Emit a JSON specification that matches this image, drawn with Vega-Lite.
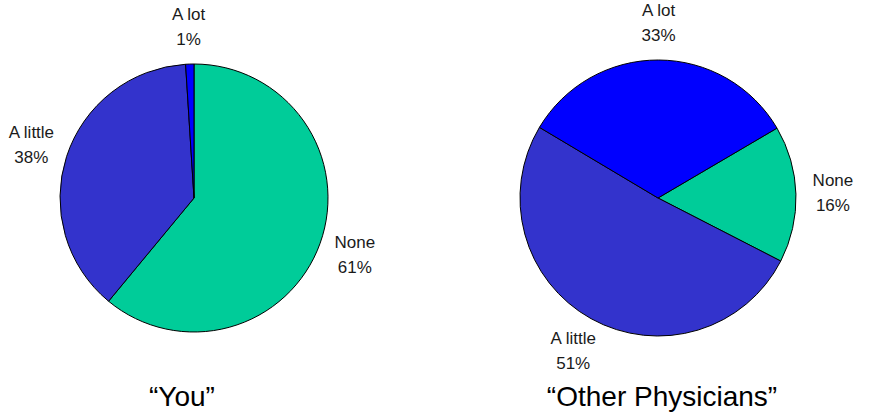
{
  "$schema": "https://vega.github.io/schema/vega-lite/v6.json",
  "padding": 0,
  "spacing": 55,
  "background": "white",
  "config": {
    "view": {"stroke": null},
    "font": "Liberation Sans",
    "title": {"orient": "bottom", "fontSize": 28, "fontWeight": "normal", "color": "#000", "font": "Liberation Sans", "baseline": "middle", "offset": -12}
  },
  "datasets": {
    "you": [
      {"answer": "None", "pct": 61},
      {"answer": "A little", "pct": 38},
      {"answer": "A lot", "pct": 1}
    ],
    "others": [
      {"answer": "None", "pct": 16},
      {"answer": "A little", "pct": 51},
      {"answer": "A lot", "pct": 33}
    ]
  },
  "hconcat": [
    {
      "title": {"text": "“You”", "dx": -12},
      "width": 388,
      "height": 396,
      "data": {"name": "you"},
      "transform": [
        {"calculate": "datum.answer + '\\n' + datum.pct + '%'", "as": "label"},
        {"calculate": "indexof(['None', 'A little', 'A lot'], datum.answer)", "as": "rank"}
      ],
      "encoding": {
        "theta": {"field": "pct", "type": "quantitative", "stack": true, "scale": {"range": [0, 6.2832]}},
        "order": {"field": "rank", "type": "quantitative", "sort": "ascending"},
        "color": {"field": "answer", "type": "nominal",
          "scale": {"domain": ["None", "A little", "A lot"], "range": ["#00CC99", "#3333CC", "#0000FF"]}, "legend": null}
      },
      "layer": [
        {"mark": {"type": "arc", "outerRadius": 134, "stroke": "#000", "strokeWidth": 1}},
        {"mark": {"type": "text", "radius": 171, "fontSize": 17, "lineBreak": "\n", "lineHeight": 25, "dy": -12.5, "align": "center", "baseline": "middle"},
          "encoding": {"text": {"field": "label"}, "color": {"value": "#1a1a1a"}}}
      ]
    },
    {
      "title": {"text": "“Other Physicians”", "dx": 4},
      "width": 430,
      "height": 396,
      "data": {"name": "others"},
      "transform": [
        {"calculate": "datum.answer + '\\n' + datum.pct + '%'", "as": "label"},
        {"calculate": "indexof(['None', 'A little', 'A lot'], datum.answer)", "as": "rank"}
      ],
      "encoding": {
        "theta": {"field": "pct", "type": "quantitative", "stack": true, "scale": {"range": [1.040, 7.3232]}},
        "order": {"field": "rank", "type": "quantitative", "sort": "ascending"},
        "color": {"field": "answer", "type": "nominal",
          "scale": {"domain": ["None", "A little", "A lot"], "range": ["#00CC99", "#3333CC", "#0000FF"]}, "legend": null}
      },
      "layer": [
        {"mark": {"type": "arc", "outerRadius": 138, "stroke": "#000", "strokeWidth": 1}},
        {"mark": {"type": "text", "radius": 175, "fontSize": 17, "lineBreak": "\n", "lineHeight": 25, "dy": -12.5, "align": "center", "baseline": "middle"},
          "encoding": {"text": {"field": "label"}, "color": {"value": "#1a1a1a"}}}
      ]
    }
  ],
  "resolve": {"scale": {"theta": "independent"}}
}
